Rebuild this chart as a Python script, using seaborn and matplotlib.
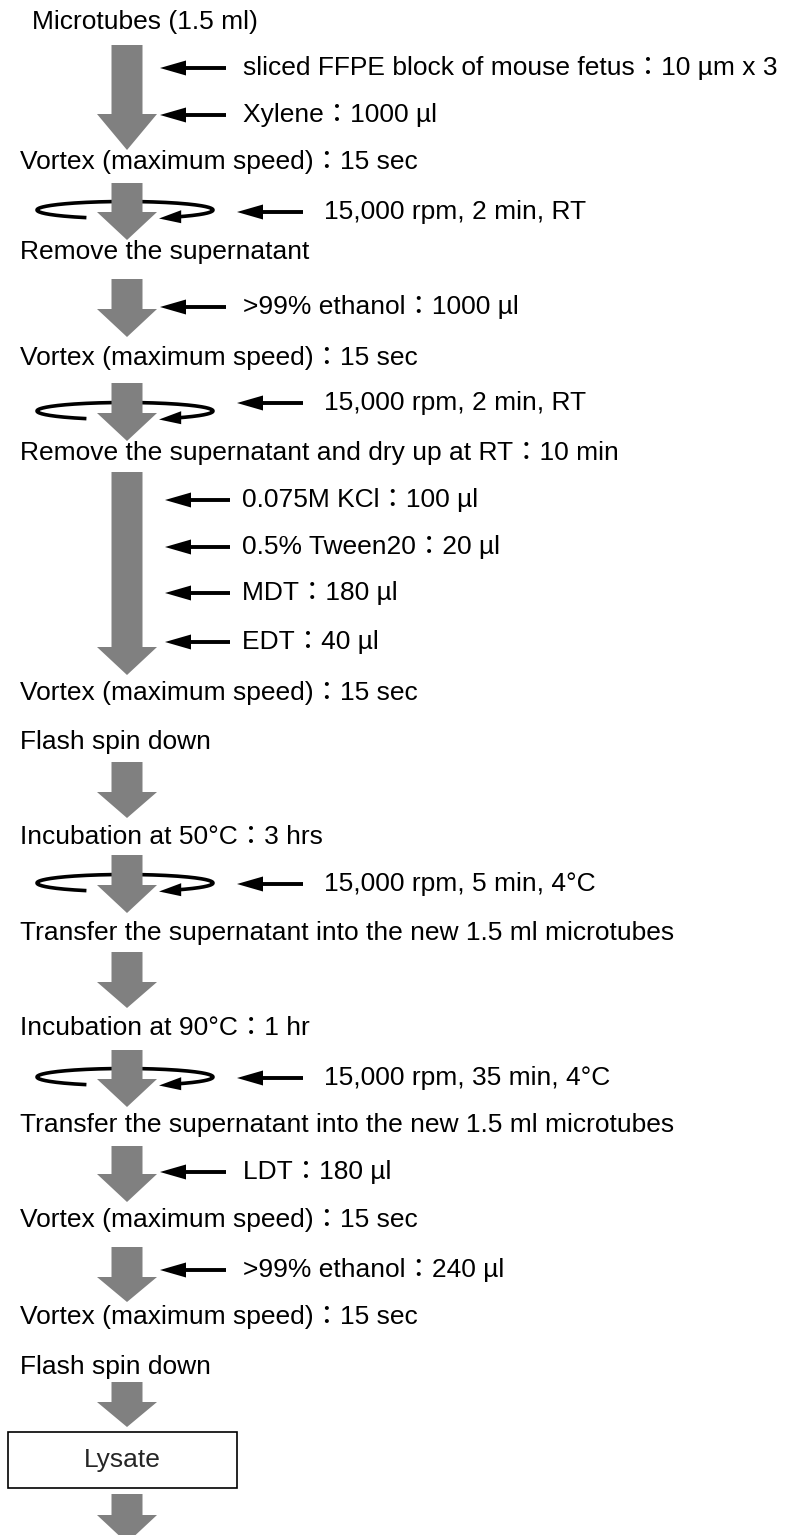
import matplotlib
matplotlib.use('Agg')
import numpy as np
import matplotlib.pyplot as plt
from matplotlib.patches import Polygon, Rectangle
import seaborn as sns

# flowchart text (pixel layout, y grows downward)
step_labels = ['Microtubes (1.5 ml)',
               'Vortex (maximum speed)：15 sec',
               'Remove the supernatant',
               'Vortex (maximum speed)：15 sec',
               'Remove the supernatant and dry up at RT：10 min',
               'Vortex (maximum speed)：15 sec',
               'Flash spin down',
               'Incubation at 50°C：3 hrs',
               'Transfer the supernatant into the new 1.5 ml microtubes',
               'Incubation at 90°C：1 hr',
               'Transfer the supernatant into the new 1.5 ml microtubes',
               'Vortex (maximum speed)：15 sec',
               'Vortex (maximum speed)：15 sec',
               'Flash spin down']
step_y = [22, 162, 252, 358, 453, 693, 742, 837, 933, 1028, 1125, 1220, 1317, 1367]
step_x = [32] + [20] * 13

# grey flow arrows: shaft top, head base, tip, centrifuge symbol?
arrow_top = [45, 183, 279, 383, 472, 762, 855, 952, 1050, 1146, 1247, 1382, 1494]
arrow_base = [114, 212, 309, 413, 647, 792, 885, 982, 1079, 1174, 1277, 1402, 1515]
arrow_tip = [150, 240, 337, 441, 675, 818, 913, 1008, 1107, 1202, 1302, 1427, 1543]
arrow_spin = [False, True, False, True, False, False, True, False, True, False, False, False, False]

# reagents / conditions added from the side
input_labels = ['sliced FFPE block of mouse fetus：10 µm x 3',
                'Xylene：1000 µl',
                '15,000 rpm, 2 min, RT',
                '>99% ethanol：1000 µl',
                '15,000 rpm, 2 min, RT',
                '0.075M KCl：100 µl',
                '0.5% Tween20：20 µl',
                'MDT：180 µl',
                'EDT：40 µl',
                '15,000 rpm, 5 min, 4°C',
                '15,000 rpm, 35 min, 4°C',
                'LDT：180 µl',
                '>99% ethanol：240 µl']
input_y = [68, 115, 212, 307, 403, 500, 547, 593, 642, 884, 1078, 1172, 1270]
input_kind = ['short', 'short', 'spin', 'short', 'spin', 'long', 'long', 'long', 'long',
              'spin', 'spin', 'short', 'short']

box_label = 'Lysate'

sns.set_theme(style='white')
plt.rcParams['font.family'] = ['Liberation Sans', 'Noto Sans CJK JP']

fig = plt.figure(figsize=(7.86, 15.35), dpi=100)
ax = fig.add_axes([0, 0, 1, 1])
ax.set_xlim(0, 786)
ax.set_ylim(1535, 0)
ax.axis('off')

cx = 127
fs = 19
grey = '#808080'

for lab, x, y in zip(step_labels, step_x, step_y):
    ax.text(x, y, lab, fontsize=fs, ha='left', va='center', color='black')

for top, base, tip, spin in zip(arrow_top, arrow_base, arrow_tip, arrow_spin):
    pts = [(cx - 15.5, top), (cx + 15.5, top), (cx + 15.5, base), (cx + 30, base),
           (cx, tip), (cx - 30, base), (cx - 15.5, base)]
    ax.add_patch(Polygon(pts, closed=True, fc=grey, ec='none', zorder=3))
    if spin:
        cy = base - 2
        t = np.radians(np.linspace(116, 412, 200))
        ax.plot(125 + 88 * np.cos(t), cy + 8.5 * np.sin(t), color='black', lw=2.6,
                solid_capstyle='butt', zorder=2)
        ex, ey = 125 + 88 * np.cos(t[-1]), cy + 8.5 * np.sin(t[-1])
        ax.add_patch(Polygon([(ex + 2, ey - 6.5), (ex + 2, ey + 6.5), (159, cy + 8.5)],
                             closed=True, fc='black', ec='none', zorder=4))

side_geom = {'short': (160, 226, 243), 'long': (165, 230, 242), 'spin': (237, 303, 324)}
for lab, y, kind in zip(input_labels, input_y, input_kind):
    x_tip, x_end, x_txt = side_geom[kind]
    ax.plot([x_tip + 20, x_end], [y, y], color='black', lw=2.8, solid_capstyle='butt')
    ax.add_patch(Polygon([(x_tip, y), (x_tip + 26, y - 7.5), (x_tip + 26, y + 7.5)],
                         closed=True, fc='black', ec='none'))
    ax.text(x_txt, y, lab, fontsize=fs, ha='left', va='center', color='black')

ax.add_patch(Rectangle((8, 1432), 229, 56, fc='white', ec='black', lw=1.2, zorder=3))
ax.text(122, 1460, box_label, fontsize=fs, ha='center', va='center', zorder=4)

fig.savefig('out.png', dpi=100)
